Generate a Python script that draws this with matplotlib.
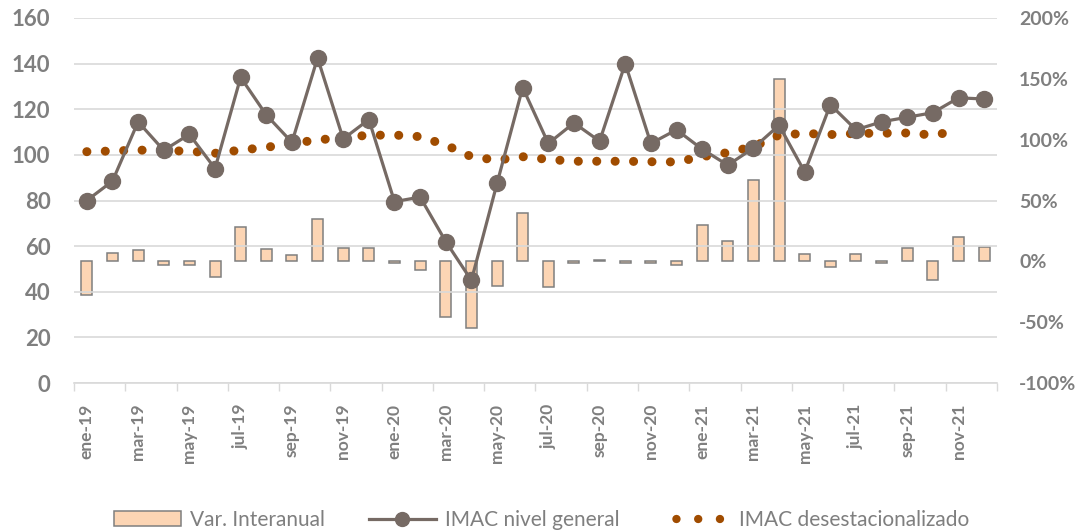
import matplotlib

matplotlib.use('Agg')
import matplotlib.pyplot as plt
from matplotlib.lines import Line2D
from matplotlib.patches import Patch
from matplotlib.ticker import FuncFormatter
import numpy as np

# Data
meses = ['ene', 'feb', 'mar', 'abr', 'may', 'jun', 'jul', 'ago', 'sep', 'oct', 'nov', 'dic']
anios = ['19', '20', '21']
categorias = [m + '-' + a for a in anios for m in meses]

var_interanual = [-28, 7, 9, -3, -3, -13, 28, 10, 5, 35, 11, 11,
                  -1, -7, -46, -55, -20, 40, -21, -1, 1, -1, -1, -3,
                  30, 17, 67, 150, 6, -5, 6, -1, 11, -15, 20, 12]

imac_general = [80, 88.5, 114.5, 102, 109, 94, 134, 117.5, 105.5, 142.5, 107, 115.5,
                79.5, 81.5, 62, 45, 87.5, 129.5, 105, 114, 106, 140, 105, 111,
                102.5, 95.5, 103, 113, 92.5, 122, 111, 114.5, 116.5, 118.5, 125, 124.5]

# desestacionalizado ends one month earlier (nov-21)
imac_desest = [101.4, 101.7, 102.1, 101.9, 101.6, 100.7, 102.1, 103.3, 105.1, 106.5, 107.7, 108.6,
               108.7, 108.0, 104.3, 99.2, 97.7, 99.2, 98.0, 97.2, 97.2, 97.2, 97.0, 96.9,
               99.2, 101.0, 103.6, 108.7, 109.4, 108.9, 109.4, 109.5, 109.6, 108.7, 110.5]

# Styles
GRAY_TXT = '#7f7f7f'
GRID = '#d9d9d9'
BAR_FILL = '#fcd5b4'
BAR_EDGE = '#7f7f7f'
LINE_COLOR = '#766a64'
DOT_COLOR = '#a04c00'

plt.rcParams['font.family'] = ['Lato', 'DejaVu Sans']

fig = plt.figure(figsize=(10.84, 5.32), dpi=100)
ax = fig.add_axes([74 / 1084, 1 - 383 / 532, (997 - 74) / 1084, (383 - 18) / 532])
ax2 = ax.twinx()
ax.set_zorder(2)
ax2.set_zorder(1)
ax.patch.set_visible(False)

x = np.arange(len(categorias))

# Bars on the right axis
ax2.bar(x, var_interanual, width=0.43, color=BAR_FILL, edgecolor=BAR_EDGE, linewidth=1.1)
ax2.set_ylim(-100, 200)
ax2.set_yticks(np.arange(-100, 201, 50))
ax2.yaxis.set_major_formatter(FuncFormatter(lambda v, p: '%d%%' % v))

# Lines on the left axis
ax.plot(x, imac_general, color=LINE_COLOR, linewidth=2.3, marker='o', markersize=11.5,
        zorder=4)
ax.plot(x[:len(imac_desest)], imac_desest, color=DOT_COLOR, linewidth=6.5,
        linestyle=(0, (0.01, 2.03)), dash_capstyle='round', zorder=3)

ax.set_ylim(0, 160)
ax.set_yticks(np.arange(0, 161, 20))
ax.set_xlim(-0.5, len(categorias) - 0.5)
ax.grid(axis='y', color=GRID, linewidth=1.2, zorder=0)
ax.set_axisbelow(True)

# X ticks: labels every 2 months, tick marks at category boundaries
ax.set_xticks(x[::2])
ax.set_xticklabels(categorias[::2], rotation=90, fontsize=12.5, fontweight='bold', color=GRAY_TXT)
ax.set_xticks(np.arange(-0.5, len(categorias), 2), minor=True)
ax.tick_params(axis='x', which='major', length=0, pad=15)
ax.tick_params(axis='x', which='minor', length=6, width=1, color=GRID)

ax.tick_params(axis='y', length=0, pad=17, labelsize=16, labelcolor=GRAY_TXT)
ax2.tick_params(axis='y', length=0, pad=16, labelsize=14, labelcolor=GRAY_TXT)
for lab in ax.get_yticklabels() + ax2.get_yticklabels():
    lab.set_fontweight('bold')

for a in (ax, ax2):
    for side in ('left', 'right', 'top'):
        a.spines[side].set_visible(False)
    a.spines['bottom'].set_color(GRID)
    a.spines['bottom'].set_linewidth(1.2)
ax2.spines['bottom'].set_visible(False)

# Legend
handles = [
    Patch(facecolor=BAR_FILL, edgecolor=BAR_EDGE, linewidth=1.1),
    Line2D([], [], color=LINE_COLOR, linewidth=2.3, marker='o', markersize=10),
    Line2D([], [], color=DOT_COLOR, linewidth=6, linestyle=(1.0, (0.01, 2.6)),
           dash_capstyle='round'),
]
labels = ['Var. Interanual', 'IMAC nivel general', 'IMAC desestacionalizado']
fig.legend(handles, labels, loc='center', bbox_to_anchor=(0.5, 1 - 520 / 532), ncol=3,
           frameon=False, fontsize=15, labelcolor=GRAY_TXT, handlelength=3.2,
           handletextpad=0.45, columnspacing=2.1)

plt.savefig('out.png', dpi=100)
